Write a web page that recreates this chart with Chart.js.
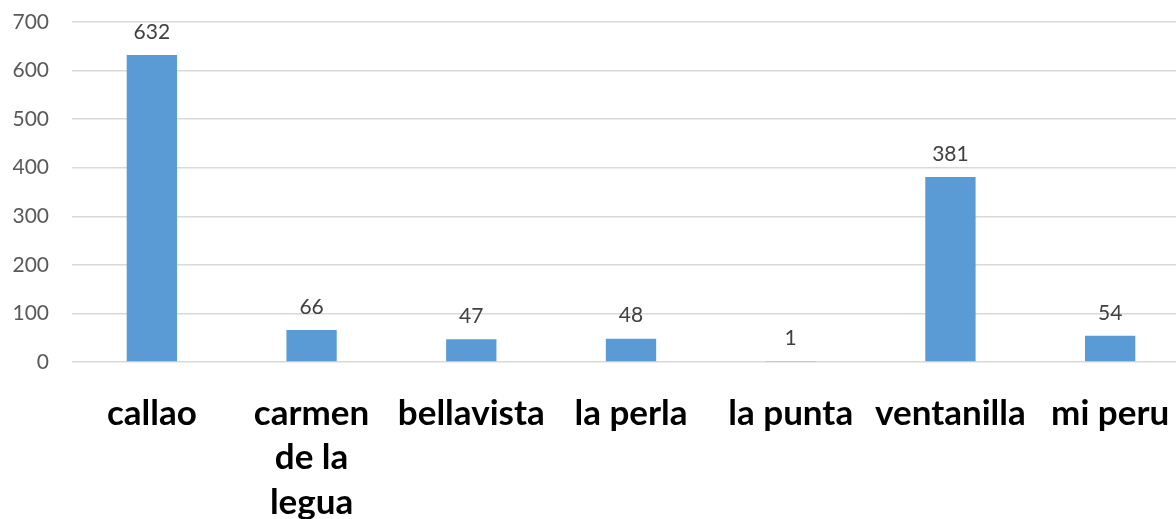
<!DOCTYPE html>
<html>
<head>
<meta charset="utf-8">
<script src="https://cdn.jsdelivr.net/npm/chart.js@4.4.1/dist/chart.umd.min.js"></script>
<style>
  html, body { margin: 0; padding: 0; background: #fff; overflow: hidden; }
  #wrap { width: 1190px; height: 519px; }
</style>
</head>
<body>
<div id="wrap"><canvas id="chart"></canvas></div>
<script>
// categories and values
const districts = [
  "callao",
  ["carmen", "de la", "legua"],
  "bellavista",
  "la perla",
  "la punta",
  "ventanilla",
  "mi peru"
]
const cases = [632, 66, 47, 48, 1, 381, 54]
const yTicks = [0, 100, 200, 300, 400, 500, 600, 700]

// simple value labels above each bar
const barValues = {
  id: "barValues",
  afterDatasetsDraw(chart) {
    const ctx = chart.ctx
    const meta = chart.getDatasetMeta(0)
    ctx.save()
    ctx.font = "21px Lato"
    ctx.fillStyle = "#404040"
    ctx.textAlign = "center"
    ctx.textBaseline = "middle"
    meta.data.forEach((bar, i) => {
      ctx.fillText(String(cases[i]), bar.x, bar.y - 23)
    })
    ctx.restore()
  }
}

new Chart(document.getElementById("chart").getContext("2d"), {
  type: "bar",
  data: {
    labels: districts,
    datasets: [{
      data: cases,
      backgroundColor: "#5b9bd5",
      borderWidth: 0,
      categoryPercentage: 1,
      barPercentage: 0.315
    }]
  },
  options: {
    responsive: true,
    maintainAspectRatio: false,
    animation: false,
    layout: { padding: { top: 22, left: 0, right: 0, bottom: 0 } },
    plugins: {
      legend: { display: false },
      tooltip: { enabled: false }
    },
    scales: {
      x: {
        grid: { display: false },
        border: { display: false },
        ticks: {
          color: "#000",
          font: { family: "Lato", size: 35, weight: "bold", lineHeight: 1.26 },
          padding: 22,
          maxRotation: 0,
          autoSkip: false
        },
        afterFit(scale) {
          scale.height = 157
          scale.paddingLeft = 0
          scale.paddingRight = 0
        }
      },
      y: {
        min: 0,
        max: 700,
        afterBuildTicks(scale) { scale.ticks = yTicks.map(v => ({ value: v })) },
        grid: { color: "#d9d9d9", lineWidth: 1.5, drawTicks: false },
        border: { display: false },
        ticks: {
          color: "#595959",
          font: { family: "Lato", size: 21 },
          padding: 23
        },
        afterFit(scale) {
          scale.width = 72
          scale.paddingTop = 0
          scale.paddingBottom = 0
        }
      }
    }
  },
  plugins: [barValues]
})
</script>
</body>
</html>
